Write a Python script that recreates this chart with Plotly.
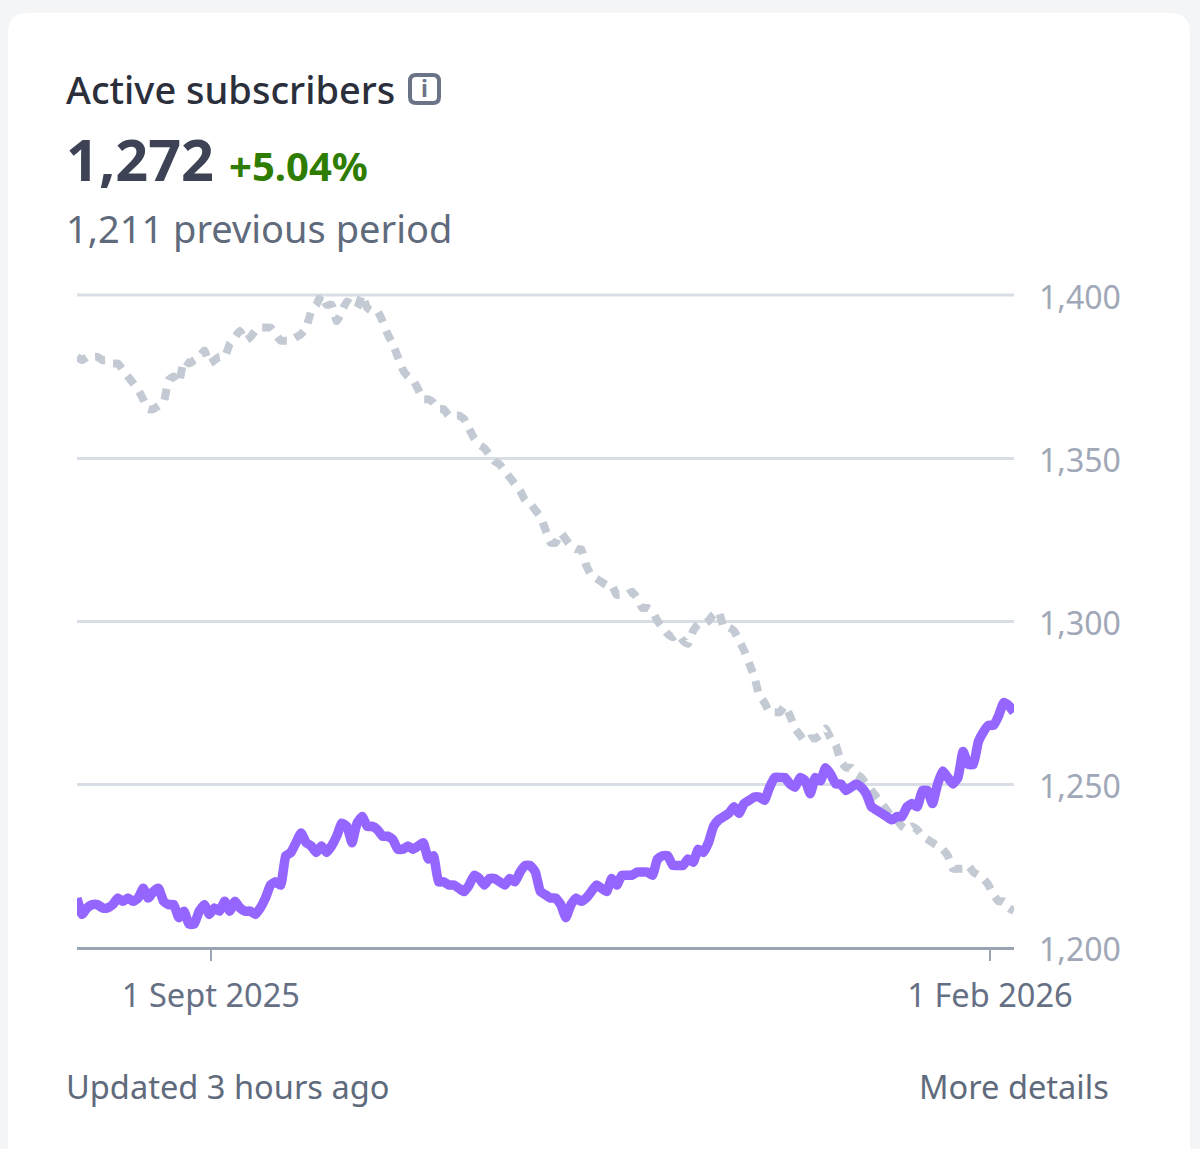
import pandas as pd
import plotly.graph_objects as go

W, H = 1200, 1149

# daily readings, 5 Aug 2025 to 5 Feb 2026
dates = pd.date_range("2025-08-05 17:00", periods=185, freq="D")

current = [
    1215, 1210, 1212, 1213, 1213, 1212, 1212, 1213, 1215, 1214,
    1215, 1214, 1215, 1218, 1215, 1217, 1218, 1214, 1213, 1213,
    1209, 1211, 1207, 1207, 1211, 1213, 1210, 1212, 1211, 1214,
    1211, 1214, 1212, 1211, 1211, 1210, 1212, 1215, 1219, 1220,
    1219, 1228, 1229, 1232, 1235, 1232, 1231, 1229, 1231, 1229,
    1231, 1234, 1238, 1237, 1232, 1238, 1240, 1237, 1237, 1236,
    1234, 1234, 1233, 1230, 1230, 1231, 1230, 1231, 1232, 1227,
    1228, 1220, 1220, 1219, 1219, 1218, 1217, 1219, 1222, 1221,
    1219, 1221, 1221, 1220, 1219, 1221, 1220, 1223, 1225, 1225,
    1223, 1217, 1216, 1215, 1215, 1213, 1209, 1213, 1215, 1214,
    1215, 1217, 1219, 1218, 1217, 1221, 1219, 1222, 1222, 1222,
    1223, 1223, 1223, 1222, 1227, 1228, 1228, 1225, 1225, 1225,
    1227, 1226, 1230, 1229, 1232, 1237, 1239, 1240, 1241, 1243,
    1241, 1244, 1245, 1246, 1246, 1245, 1249, 1252, 1252, 1252,
    1250, 1249, 1252, 1251, 1247, 1252, 1251, 1255, 1253, 1250,
    1250, 1248, 1249, 1250, 1249, 1247, 1243, 1242, 1241, 1240,
    1239, 1240, 1240, 1243, 1244, 1243, 1248, 1248, 1244, 1250,
    1254, 1252, 1250, 1252, 1260, 1256, 1256, 1263, 1266, 1268,
    1268, 1271, 1275, 1274, 1272,
]

previous = [
    1381, 1380, 1381, 1381, 1381, 1380, 1380, 1379, 1379, 1377,
    1375, 1373, 1371, 1368, 1365, 1365, 1366, 1367, 1374, 1375,
    1373, 1380, 1379, 1380, 1381, 1383, 1379, 1380, 1381, 1381,
    1385, 1387, 1389, 1386, 1387, 1389, 1390, 1390, 1390, 1388,
    1386, 1386, 1386, 1387, 1388, 1390, 1395, 1397, 1400, 1397,
    1397, 1392, 1395, 1398, 1397, 1396, 1400, 1396, 1395, 1395,
    1392, 1388, 1385, 1381, 1377, 1375, 1374, 1371, 1368, 1368,
    1367, 1365, 1365, 1363, 1363, 1363, 1362, 1359, 1356, 1354,
    1353, 1351, 1349, 1348, 1346, 1344, 1342, 1340, 1337, 1336,
    1334, 1332, 1328, 1324, 1324, 1327, 1325, 1323, 1322, 1322,
    1317, 1314, 1313, 1312, 1311, 1311, 1308, 1308, 1308, 1309,
    1307, 1304, 1304, 1303, 1300, 1298, 1296, 1295, 1296, 1294,
    1293, 1297, 1299, 1299, 1300, 1302, 1303, 1298, 1298, 1297,
    1294, 1291, 1287, 1283, 1277, 1275, 1272, 1272, 1272, 1274,
    1271, 1267, 1265, 1263, 1264, 1264, 1265, 1267, 1264, 1262,
    1257, 1255, 1255, 1253, 1252, 1250, 1248, 1246, 1244, 1242,
    1240, 1239, 1237, 1236, 1237, 1236, 1234, 1233, 1232, 1231,
    1230, 1228, 1224, 1224, 1224, 1225, 1223, 1222, 1221, 1219,
    1216, 1214, 1214, 1212, 1211,
]

y_ticks = [1200, 1250, 1300, 1350, 1400]
y_labels = ["1,200", "1,250", "1,300", "1,350", "1,400"]
x_ticks = ["2025-09-01", "2026-02-01"]
x_labels = ["1 Sept 2025", "1 Feb 2026"]

FONT = "Noto Sans"


def fx(px):
    return px / W


def fy(py):
    return 1 - py / H


def label(text, x, y, size, color, anchor="left", weight=400):
    # x/y in page pixels, y is the text's middle
    fig.add_annotation(text=text, x=fx(x), y=fy(y), xref="paper", yref="paper",
                       xanchor=anchor, yanchor="middle", showarrow=False,
                       font=dict(family=FONT, size=size, color=color, weight=weight))


def rounded(x0, y0, x1, y1, r):
    p = lambda x, y: f"{fx(x)} {fy(y)}"
    return (f"M {p(x0 + r, y0)} L {p(x1 - r, y0)} Q {p(x1, y0)} {p(x1, y0 + r)} "
            f"L {p(x1, y1 - r)} Q {p(x1, y1)} {p(x1 - r, y1)} "
            f"L {p(x0 + r, y1)} Q {p(x0, y1)} {p(x0, y1 - r)} "
            f"L {p(x0, y0 + r)} Q {p(x0, y0)} {p(x0 + r, y0)} Z")


fig = go.Figure()
fig.add_trace(go.Scatter(x=dates, y=previous, mode="lines",
                         line=dict(color="#c3cad3", width=8, dash="11px,9px",
                                   shape="spline", smoothing=0.4)))
fig.add_trace(go.Scatter(x=dates, y=current, mode="lines",
                         line=dict(color="#9466ff", width=9.5,
                                   shape="spline", smoothing=0.4)))

fig.update_layout(
    width=W, height=H, showlegend=False, hovermode=False,
    margin=dict(l=0, r=0, t=0, b=0),
    paper_bgcolor="#f4f5f7", plot_bgcolor="rgba(0,0,0,0)",
    font=dict(family=FONT),
)
fig.update_xaxes(domain=[fx(77), fx(1014)], range=[dates[0], dates[-1]], automargin=False,
                 tickmode="array", tickvals=x_ticks, ticktext=x_labels,
                 ticks="outside", ticklen=11, tickwidth=2, tickcolor="#9aa5b4",
                 showline=True, linecolor="#9aa5b4", linewidth=3, showgrid=False,
                 zeroline=False, ticklabelstandoff=7,
                 tickfont=dict(family=FONT, size=32.6, color="#667085"))
fig.update_yaxes(domain=[fy(947), fy(295)], range=[1200, 1400], side="right", automargin=False,
                 tickmode="array", tickvals=y_ticks, ticktext=y_labels,
                 ticks="", showline=False, zeroline=False,
                 showgrid=True, gridcolor="#d9dee6", gridwidth=3,
                 ticklabelstandoff=24, ticklabelshift=3,
                 tickfont=dict(family=FONT, size=32, color="#a0a8b8"))

# card, top gridline (plotly drops the one on the axis edge) and info icon
fig.add_shape(type="path", xref="paper", yref="paper", layer="below",
              path=rounded(8, 13, 1190, 1180, 20), fillcolor="white",
              line=dict(width=0))
fig.add_shape(type="line", xref="paper", yref="paper", layer="below",
              x0=fx(77), x1=fx(1014), y0=fy(295), y1=fy(295),
              line=dict(color="#d9dee6", width=3))
fig.add_shape(type="path", xref="paper", yref="paper",
              path=rounded(410, 75, 439, 103, 6), fillcolor="white",
              line=dict(color="#6b7486", width=4))

label("Active subscribers", 64, 89, 38, "#2b2f3b", weight=500)
label("i", 424.5, 88, 23, "#6b7486", "center", 700)
label("1,272", 64, 159, 57.5, "#3d4354", weight=700)
label("+5.04%", 227, 165.5, 40, "#2e7d00", weight=700)
label("1,211 previous period", 63.5, 227.5, 38, "#5f6b7c")
label("Updated 3 hours ago", 63.5, 1086.5, 32.6, "#5f6b7c")
label("More details", 1110.5, 1086.5, 32.6, "#5f6b7c", "right")

fig.write_html("out.html", config=dict(displayModeBar=False),
               post_script="document.body.style.margin='0';")
